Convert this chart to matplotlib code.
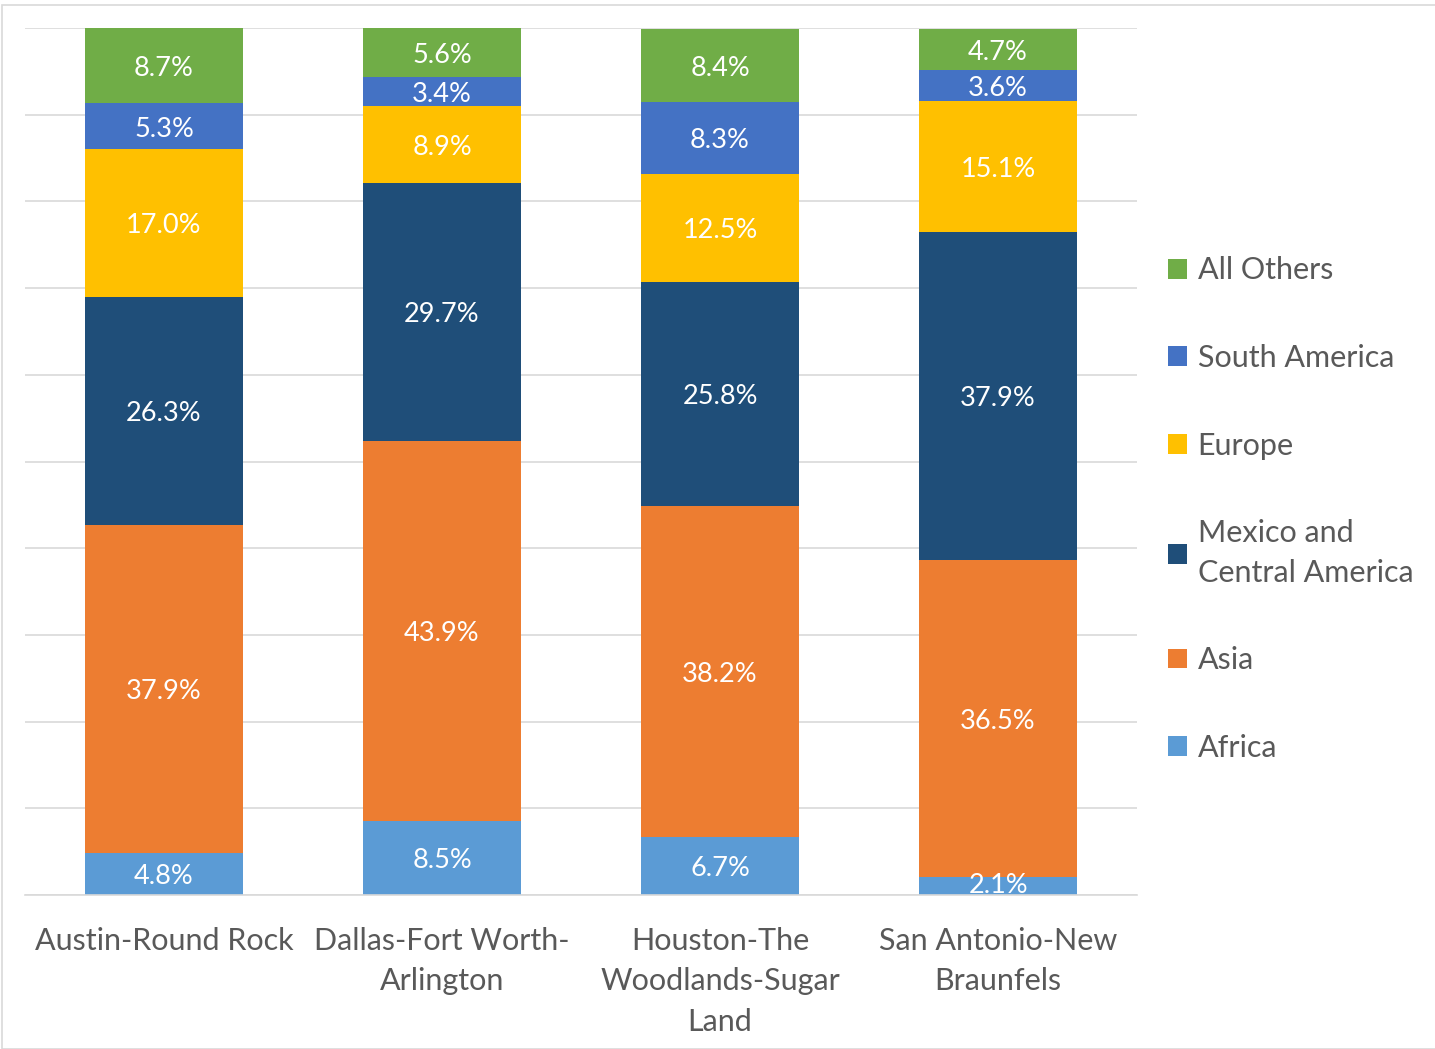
import numpy as np
import matplotlib.pyplot as plt
from matplotlib.patches import Rectangle

plt.rcParams['font.family'] = ['Lato', 'DejaVu Sans']

# data
metros = ["Austin-Round Rock", "Dallas-Fort Worth-\nArlington",
          "Houston-The\nWoodlands-Sugar\nLand", "San Antonio-New\nBraunfels"]
regions = ["Africa", "Asia", "Mexico and\nCentral America", "Europe",
           "South America", "All Others"]
africa = [4.8, 8.5, 6.7, 2.1]
asia = [37.9, 43.9, 38.2, 36.5]
mexico = [26.3, 29.7, 25.8, 37.9]
europe = [17.0, 8.9, 12.5, 15.1]
south_america = [5.3, 3.4, 8.3, 3.6]
all_others = [8.7, 5.6, 8.4, 4.7]

series = [africa, asia, mexico, europe, south_america, all_others]
colors = ["#5B9BD5", "#ED7D31", "#1F4E79", "#FFC000", "#4472C4", "#70AD47"]

fig = plt.figure(figsize=(14.35, 10.49), dpi=100)
ax = fig.add_axes([0.0174, 0.1468, 0.775, 0.8265])

x = np.arange(len(metros))
bottom = np.zeros(len(metros))
for vals, col, name in zip(series, colors, regions):
    vals = np.array(vals)
    ax.bar(x, vals, 0.57, bottom=bottom, color=col, label=name, zorder=2)
    for xi, b, v in zip(x, bottom, vals):
        # small segments at the bottom keep the label inside the plot
        off = -2 if v > 3 else 0
        ax.annotate(f"{v:.1f}%", (xi, b + v / 2), xytext=(0, off),
                    textcoords="offset points", ha="center", va="center",
                    color="white", fontsize=19.5, zorder=4)
    bottom += vals

ax.set_xlim(-0.5, 3.5)
ax.set_ylim(0, 100)
ax.set_yticks(np.arange(0, 101, 10))
ax.yaxis.grid(True, color="#d9d9d9", linewidth=1.2, zorder=0)
ax.tick_params(axis="y", left=False, labelleft=False)
ax.tick_params(axis="x", length=0, pad=23)
ax.set_xticks(x)
ax.set_xticklabels(metros, fontsize=22, color="#595959", linespacing=1.54)
for s in ["top", "right", "left"]:
    ax.spines[s].set_visible(False)
ax.spines["bottom"].set_color("#d9d9d9")
ax.spines["bottom"].set_linewidth(1.2)

handles, labels = ax.get_legend_handles_labels()
leg = ax.legend(handles[::-1], labels[::-1], loc="center left",
                bbox_to_anchor=(1.003, 0.445), frameon=False, fontsize=22,
                labelcolor="#595959", handlelength=0.62, handleheight=0.62,
                handletextpad=0.35, labelspacing=1.95)
for t in leg.get_texts():
    t.set_linespacing(1.5)

# thin frame round the chart area
fig.patches.append(Rectangle((0.0015, 0.0), 1.2, 0.995, transform=fig.transFigure,
                             fill=False, edgecolor="#d9d9d9", linewidth=1.2))

fig.savefig("out.png", dpi=100)
